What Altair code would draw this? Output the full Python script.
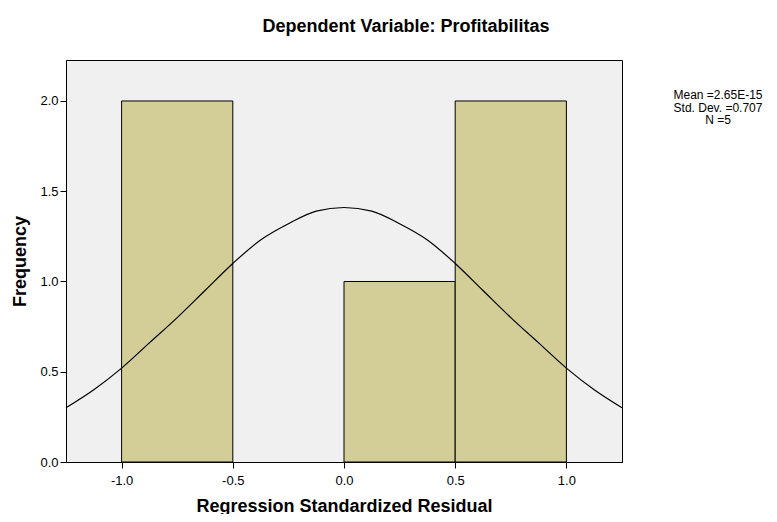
import altair as alt
import pandas as pd

# Histogram bins (Regression Standardized Residual)
bin_start = [-1.0, -0.5, 0.0, 0.5]
bin_end = [-0.5, 0.0, 0.5, 1.0]
counts = [2, 0, 1, 2]

# Normal curve values
curve_x = [-1.25, -1.125, -1.0, -0.875, -0.75, -0.625, -0.5, -0.375, -0.25, -0.125, 0.0,
           0.125, 0.25, 0.375, 0.5, 0.625, 0.75, 0.875, 1.0, 1.125, 1.25]
curve_y = [0.30, 0.40, 0.52, 0.66, 0.80, 0.95, 1.10, 1.23, 1.32, 1.39, 1.41,
           1.39, 1.32, 1.23, 1.10, 0.95, 0.80, 0.66, 0.52, 0.40, 0.30]

x_ticks = [-1.0, -0.5, 0.0, 0.5, 1.0]
y_ticks = [0.0, 0.5, 1.0, 1.5, 2.0]

stats_lines = ["Mean =2.65E-15", "Std. Dev. =0.707", "N =5"]

FONT = "Liberation Sans"

bars_df = pd.DataFrame({"start": bin_start, "end": bin_end, "count": counts})
bars_df = bars_df[bars_df["count"] > 0]
curve_df = pd.DataFrame({"x": curve_x, "y": curve_y})
stats_df = pd.DataFrame({"txt": ["\n".join(stats_lines)]})

xscale = alt.Scale(domain=[-1.25, 1.25], nice=False, zero=False)
yscale = alt.Scale(domain=[0, 2.227], nice=False)

bars = alt.Chart(bars_df).mark_rect(
    color="#D3CE97", stroke="black", strokeWidth=1
).encode(
    x=alt.X("start:Q", scale=xscale,
            axis=alt.Axis(values=x_ticks,
                          labelExpr="(datum.value < 0 ? '-' : '') + format(abs(datum.value), '.1f')",
                          title="Regression Standardized Residual")),
    x2="end:Q",
    y=alt.Y("count:Q", scale=yscale,
            axis=alt.Axis(values=y_ticks, format=".1f", title="Frequency")),
    y2=alt.datum(0),
)

curve = alt.Chart(curve_df).mark_line(
    color="black", strokeWidth=1.2, interpolate="monotone"
).encode(
    x=alt.X("x:Q", scale=xscale),
    y=alt.Y("y:Q", scale=yscale),
)

stats = alt.Chart(stats_df).mark_text(
    font=FONT, fontSize=12, align="center", baseline="top", color="black",
    lineBreak="\n", lineHeight=12.5
).encode(
    text="txt:N",
    x=alt.value(652),
    y=alt.value(30),
)

chart = alt.layer(bars, curve, stats).properties(
    width=556,
    height=402,
    padding={"left": 58, "top": 52, "right": 147, "bottom": 52},
    autosize=alt.AutoSizeParams(type="none"),
    title=alt.TitleParams(
        "Dependent Variable: Profitabilitas",
        font=FONT, fontSize=18, fontWeight="bold", color="black",
        anchor="middle", frame="group", dx=62, offset=24,
    ),
).configure_view(
    fill="#F0F0F0", stroke="black", strokeWidth=1
).configure_axis(
    grid=False,
    domainColor="black",
    tickColor="black",
    tickSize=6,
    labelFont=FONT,
    labelFontSize=13,
    labelColor="black",
    titleFont=FONT,
    titleFontSize=18,
    titleFontWeight="bold",
    titleColor="black",
).configure_axisX(
    labelPadding=6, titlePadding=10
).configure_axisY(
    labelPadding=2, titlePadding=10
)

chart.save("out.html", embed_options={"renderer": "svg", "actions": False})
